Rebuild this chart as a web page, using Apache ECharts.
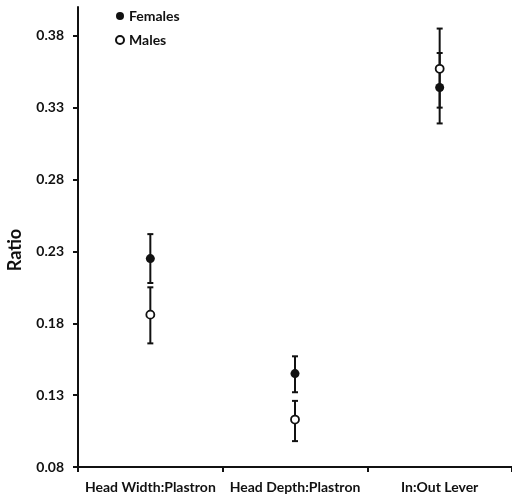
<!DOCTYPE html>
<html>
<head>
<meta charset="utf-8">
<script src="https://cdn.jsdelivr.net/npm/echarts@6/dist/echarts.min.js"></script>
<style>
  html, body { margin: 0; padding: 0; background: #fff; }
  #chart { width: 512px; height: 498px; }
</style>
</head>
<body>
<div id="chart"></div>
<script>
// values
const categories = ['Head Width:Plastron', 'Head Depth:Plastron', 'In:Out Lever'];
const femalesMean = [0.225, 0.145, 0.344];
const femalesLow = [0.208, 0.132, 0.319];
const femalesHigh = [0.242, 0.157, 0.368];
const malesMean = [0.186, 0.113, 0.357];
const malesLow = [0.166, 0.098, 0.330];
const malesHigh = [0.205, 0.126, 0.385];
const yTicks = [0.08, 0.13, 0.18, 0.23, 0.28, 0.33, 0.38];

const font = 'Lato';
const ink = '#111';

// error bar: vertical line + caps
const errorBar = (api) => {
  const x = api.value(0);
  const top = api.coord([x, api.value(2)]);
  const bot = api.coord([x, api.value(1)]);
  const w = 3;
  const style = { stroke: ink, lineWidth: 2 };
  return {
    type: 'group',
    children: [
      { type: 'line', shape: { x1: top[0], y1: top[1], x2: bot[0], y2: bot[1] }, style },
      { type: 'line', shape: { x1: top[0] - w, y1: top[1], x2: top[0] + w, y2: top[1] }, style },
      { type: 'line', shape: { x1: bot[0] - w, y1: bot[1], x2: bot[0] + w, y2: bot[1] }, style },
    ],
  };
};

const chart = echarts.init(document.getElementById('chart'), null, { renderer: 'canvas' });

chart.setOption({
  animation: false,
  textStyle: { fontFamily: font },
  grid: { left: 78, top: 7, width: 438, height: 460, containLabel: false },
  legend: {
    orient: 'vertical',
    left: 110,
    top: 4,
    itemWidth: 8,
    itemHeight: 8,
    itemGap: 10,
    textStyle: { fontFamily: font, fontWeight: 'bold', fontSize: 14, color: ink },
    data: ['Females', 'Males'],
  },
  graphic: [
    {
      type: 'text',
      x: 15,
      y: 250,
      rotation: Math.PI / 2,
      style: {
        text: 'Ratio',
        font: 'bold 18px Lato',
        fill: ink,
        align: 'center',
        verticalAlign: 'middle',
      },
    },
  ],
  xAxis: {
    type: 'category',
    data: categories,
    axisLine: { lineStyle: { color: ink, width: 2 } },
    axisTick: { show: true, length: 5, lineStyle: { color: ink, width: 2 } },
    axisLabel: { color: ink, fontWeight: 'bold', fontSize: 14, fontFamily: font, margin: 13, interval: 0 },
    splitLine: { show: false },
  },
  yAxis: {
    type: 'value',
    min: 0.08,
    max: 0.40,
    axisLine: { show: true, lineStyle: { color: ink, width: 2 } },
    axisTick: { show: true, length: 5, lineStyle: { color: ink, width: 2 }, customValues: yTicks },
    axisLabel: {
      color: ink,
      fontWeight: 'bold',
      fontSize: 14,
      fontFamily: font,
      margin: 14,
      customValues: yTicks,
      formatter: (v) => v.toFixed(2),
    },
    splitLine: { show: false },
  },
  series: [
    {
      name: 'FemalesErr',
      type: 'custom',
      renderItem: (params, api) => errorBar(api),
      data: categories.map((c, i) => [i, femalesLow[i], femalesHigh[i]]),
      z: 2,
    },
    {
      name: 'MalesErr',
      type: 'custom',
      renderItem: (params, api) => errorBar(api),
      data: categories.map((c, i) => [i, malesLow[i], malesHigh[i]]),
      z: 2,
    },
    {
      name: 'Females',
      type: 'scatter',
      symbol: 'circle',
      symbolSize: 9,
      itemStyle: { color: ink, opacity: 1 },
      data: femalesMean.map((v, i) => [i, v]),
      z: 3,
    },
    {
      name: 'Males',
      type: 'scatter',
      symbol: 'circle',
      symbolSize: 8,
      itemStyle: { color: '#fff', borderColor: ink, borderWidth: 1.8, opacity: 1 },
      data: malesMean.map((v, i) => [i, v]),
      z: 3,
    },
  ],
});
</script>
</body>
</html>
